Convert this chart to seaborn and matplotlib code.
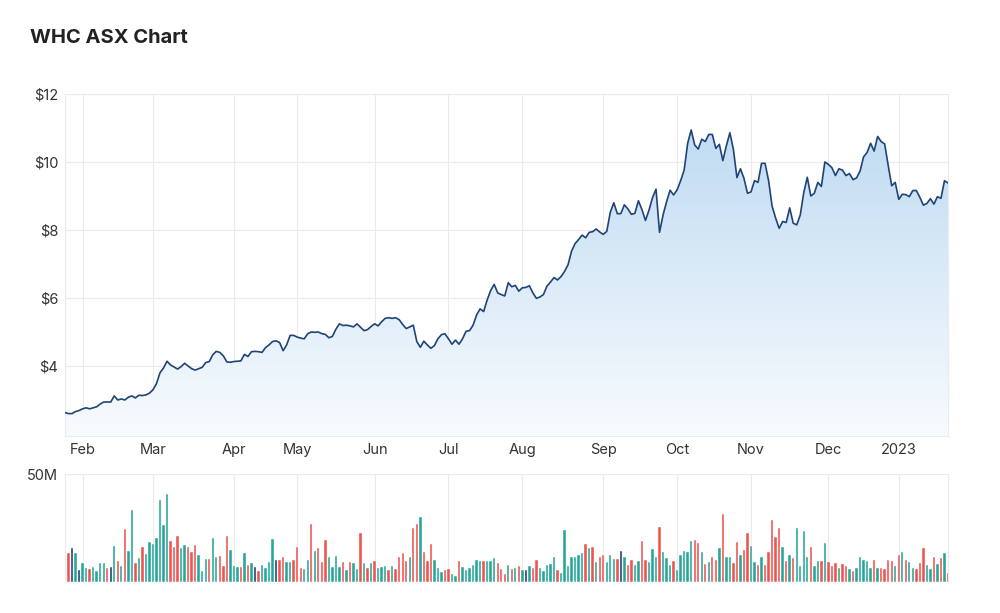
import numpy as np
import pandas as pd
import matplotlib
matplotlib.use("Agg")
import matplotlib.pyplot as plt
from matplotlib.colors import LinearSegmentedColormap
import seaborn as sns

# WHC daily close ($), one value per ASX trading day
close = [
    2.63, 2.60, 2.60, 2.66, 2.69, 2.74, 2.77, 2.74, 2.77, 2.80,
    2.88, 2.94, 2.94, 2.94, 3.12, 3.00, 3.03, 3.00, 3.08, 3.12,
    3.06, 3.14, 3.13, 3.15, 3.20, 3.30, 3.48, 3.80, 3.94, 4.14,
    4.03, 3.97, 3.91, 3.98, 4.08, 4.00, 3.92, 3.88, 3.92, 3.96,
    4.10, 4.13, 4.33, 4.43, 4.40, 4.30, 4.12, 4.11, 4.13, 4.14,
    4.15, 4.34, 4.28, 4.42, 4.43, 4.42, 4.40, 4.54, 4.62, 4.72,
    4.74, 4.69, 4.45, 4.62, 4.90, 4.90, 4.85, 4.82, 4.80, 4.95,
    5.00, 4.99, 5.00, 4.95, 4.93, 4.83, 4.87, 5.08, 5.24, 5.19,
    5.20, 5.18, 5.15, 5.24, 5.14, 5.04, 5.07, 5.16, 5.24, 5.18,
    5.30, 5.40, 5.42, 5.40, 5.42, 5.36, 5.22, 5.10, 5.15, 5.20,
    4.72, 4.55, 4.73, 4.62, 4.52, 4.60, 4.80, 4.92, 4.95, 4.80,
    4.64, 4.76, 4.64, 4.80, 5.02, 5.04, 5.20, 5.50, 5.68,
    5.60, 5.94, 6.22, 6.40, 6.15, 6.10, 6.06, 6.45, 6.33, 6.37,
    6.20, 6.30, 6.31, 6.36, 6.15, 5.99, 6.03, 6.10, 6.35, 6.47,
    6.60, 6.53, 6.63, 6.78, 6.98, 7.38, 7.60, 7.72, 7.85, 7.77,
    7.93, 7.95, 8.03, 7.94, 7.87, 7.96, 8.52, 8.80, 8.48, 8.48,
    8.74, 8.62, 8.46, 8.49, 8.86, 8.60, 8.28, 8.58, 8.95, 9.20,
    7.93, 8.44, 8.83, 9.17, 9.03, 9.18, 9.45, 9.76, 10.55, 10.94,
    10.50, 10.38, 10.67, 10.60, 10.81, 10.81, 10.40, 10.52, 10.04, 10.48,
    10.86, 10.37, 9.54, 9.80, 9.52, 9.08, 9.12, 9.45, 9.40, 9.96,
    9.96, 9.45, 8.70, 8.35, 8.05, 8.25, 8.22, 8.65, 8.20, 8.15,
    8.44, 9.10, 9.55, 9.00, 9.08, 9.40, 9.28, 10.00, 9.93, 9.83,
    9.60, 9.80, 9.76, 9.60, 9.66, 9.48, 9.53, 9.73, 10.15, 10.28,
    10.55, 10.32, 10.75, 10.60, 10.53, 9.90, 9.30, 9.40, 8.90, 9.05,
    9.04, 8.98, 9.16, 9.16, 8.96, 8.73, 8.78, 8.92, 8.76, 8.98,
    8.93, 9.45, 9.38,
]

# daily volume, millions of shares
volume = [
    14.0, 13.6, 15.6, 13.6, 5.5, 8.6, 6.5, 6.1, 7.0, 5.0,
    8.6, 8.6, 6.5, 7.0, 16.7, 9.7, 7.6, 24.5, 14.3, 33.3,
    8.6, 11.2, 16.2, 12.8, 18.5, 17.8, 20.2, 38.2, 26.3, 40.8,
    19.0, 16.2, 21.2, 15.6, 17.1, 16.2, 14.0, 17.1, 12.5, 5.3,
    10.7, 10.7, 20.6, 11.5, 12.0, 7.6, 21.2, 14.6, 7.6, 7.0,
    7.0, 13.2, 8.1, 8.6, 7.0, 5.3, 8.1, 6.5, 9.2, 20.1,
    10.1, 10.4, 11.5, 9.2, 9.2, 10.4, 16.2, 6.5, 6.1, 10.4,
    26.8, 14.3, 15.6, 9.2, 19.6, 11.5, 7.0, 12.0, 7.0, 9.2,
    5.5, 9.2, 8.6, 5.8, 22.6, 8.6, 6.5, 8.6, 9.7, 6.5,
    7.0, 7.6, 5.5, 7.6, 6.1, 11.5, 13.6, 9.7, 11.5, 25.2,
    26.8, 30.2, 14.0, 9.7, 17.8, 10.4, 6.5, 4.7, 5.5, 6.1,
    3.9, 3.0, 9.7, 7.0, 5.5, 6.5, 8.1, 10.4, 9.7, 9.7,
    9.7, 9.7, 11.2, 8.6, 6.2, 3.6, 7.8, 6.2, 6.7, 7.2,
    5.6, 5.6, 7.2, 6.7, 10.3, 6.7, 5.1, 7.8, 8.3, 11.4,
    5.6, 4.0, 24.3, 7.2, 11.8, 11.4, 12.6, 13.2, 17.6, 15.7,
    16.4, 9.3, 11.8, 12.6, 9.3, 12.6, 10.7, 10.7, 14.2, 11.8,
    7.8, 10.3, 7.8, 9.8, 18.8, 10.3, 9.3, 15.3, 11.8, 25.4,
    13.7, 10.9, 7.8, 9.8, 5.6, 12.6, 14.5, 13.7, 18.8, 19.5,
    17.9, 13.7, 8.3, 9.3, 11.4, 10.3, 15.7, 31.3, 11.8, 11.4,
    8.7, 18.4, 12.5, 15.0, 22.7, 16.5, 9.3, 7.8, 11.8, 7.8,
    13.7, 28.8, 20.7, 25.1, 16.4, 9.8, 12.6, 11.1, 24.9, 7.2,
    23.8, 11.4, 16.4, 7.2, 9.8, 9.8, 17.9, 9.3, 7.5, 8.7,
    6.7, 8.3, 7.2, 6.2, 5.1, 6.7, 11.4, 10.3, 9.8, 6.7,
    10.3, 6.7, 6.7, 6.2, 10.3, 9.8, 7.2, 12.6, 13.7, 10.3,
    9.3, 6.7, 6.2, 8.7, 15.7, 7.8, 6.2, 11.8, 8.3, 10.9,
    13.2, 4.0,
]

# colour of each volume bar: u = up day, d = down day, f = unchanged
move = list(
    "fdfufuuduu" "uudfududuu" "duduuuuuuu" "ddduuddduu" "uduuddduuu"
    "dudufduuuu" "fdduuddduu" "duddduuuud" "uduudududu" "uududdddud"
    "duddduuudd" "uuduuuuuud" "uuudddudud" "ufudduuuuu" "duuuuuuudu"
    "dudduuudfu" "dduudduuud" "uuuduuuuud" "dududdud" "uu" "ddudduudud"
    "ddddududuu" "uuduududdd" "udduduuuuu" "duddddudud" "uuddduudud"
    "ud"
)

asx_holidays = ["2022-01-26", "2022-04-15", "2022-04-18", "2022-04-25", "2022-06-13",
                "2022-09-22", "2022-12-26", "2022-12-27", "2023-01-02"]
dates = pd.bdate_range("2022-01-24", periods=len(close), freq="C", holidays=asx_holidays)

df = pd.DataFrame({"day": np.arange(len(close)), "close": close,
                   "volume": volume, "move": move[:len(close)]})

# first trading day of each month -> tick
month_start = [i for i in range(1, len(dates)) if dates[i].month != dates[i - 1].month]
month_lbl = [dates[i].strftime("%b") if dates[i].month != 1 else str(dates[i].year)
             for i in month_start]

sns.set_theme(style="white")
plt.rcParams["font.family"] = ["Inter", "DejaVu Sans"]

fig = plt.figure(figsize=(10, 6.13), dpi=100)
ax = fig.add_axes([0.065, 0.2887, 0.883, 0.558])
axv = fig.add_axes([0.065, 0.0506, 0.883, 0.176])

grid_c = "#ebebeb"
text_c = "#333333"
x_max = len(close) - 1
y_lo, y_hi = 1.94, 12

# gradient area under the price line
poly = ax.fill_between(df["day"], df["close"], y_lo, color="none", lw=0)
fill_cmap = LinearSegmentedColormap.from_list("fill", ["#f8fbfe", "#bad8f1"])
grad = np.linspace(0, 1, 256).reshape(-1, 1)
im = ax.imshow(grad, cmap=fill_cmap, aspect="auto", origin="lower",
               extent=[0, x_max, y_lo, y_hi], zorder=1)
im.set_clip_path(poly.get_paths()[0], transform=ax.transData)

sns.lineplot(data=df, x="day", y="close", color="#1f4478", linewidth=1.2, ax=ax, zorder=3)

ax.set_xlim(0, x_max)
ax.set_ylim(y_lo, y_hi)
ax.set_yticks([4, 6, 8, 10, 12])
ax.set_yticklabels(["$4", "$6", "$8", "$10", "$12"])
ax.set_xticks(month_start)
ax.set_xticklabels(month_lbl)
ax.grid(True, color=grid_c, lw=0.8)
ax.set_axisbelow(True)
ax.tick_params(length=0, labelsize=10.5, labelcolor=text_c, pad=5)
ax.set_xlabel("")
ax.set_ylabel("")
ax.spines["top"].set_visible(False)
for s in ["left", "right", "bottom"]:
    ax.spines[s].set_color(grid_c)
    ax.spines[s].set_linewidth(0.8)

# volume bars
palette = {"u": "#26a69a", "d": "#ef5350", "f": "#1d3c6e"}
sns.barplot(data=df, x="day", y="volume", hue="move", palette=palette, dodge=False,
            native_scale=True, saturation=1, legend=False, ax=axv)
# even out the bar widths (one trading day = 1 unit)
for p in axv.patches:
    cx = p.get_x() + p.get_width() / 2
    p.set_width(0.68)
    p.set_x(cx - 0.34)
    p.set_edgecolor("#ffffff")
    p.set_linewidth(0.3)
axv.set_xlim(0, x_max)
axv.set_ylim(0, 50)
axv.set_yticks([50])
axv.set_yticklabels(["50M"])
axv.set_xticks(month_start)
axv.set_xticklabels([])
axv.grid(True, color=grid_c, lw=0.8)
axv.set_axisbelow(True)
axv.tick_params(length=0, labelsize=10.5, labelcolor=text_c, pad=5)
axv.set_xlabel("")
axv.set_ylabel("")
for s in ["top", "bottom"]:
    axv.spines[s].set_visible(False)
for s in ["left", "right"]:
    axv.spines[s].set_color(grid_c)
    axv.spines[s].set_linewidth(0.8)

fig.text(0.03, 1 - 38 / 613, "WHC ASX Chart", fontsize=14.5, fontweight="bold",
         color="#222222", va="center", ha="left")

fig.savefig("out.png", dpi=100, facecolor="white")
